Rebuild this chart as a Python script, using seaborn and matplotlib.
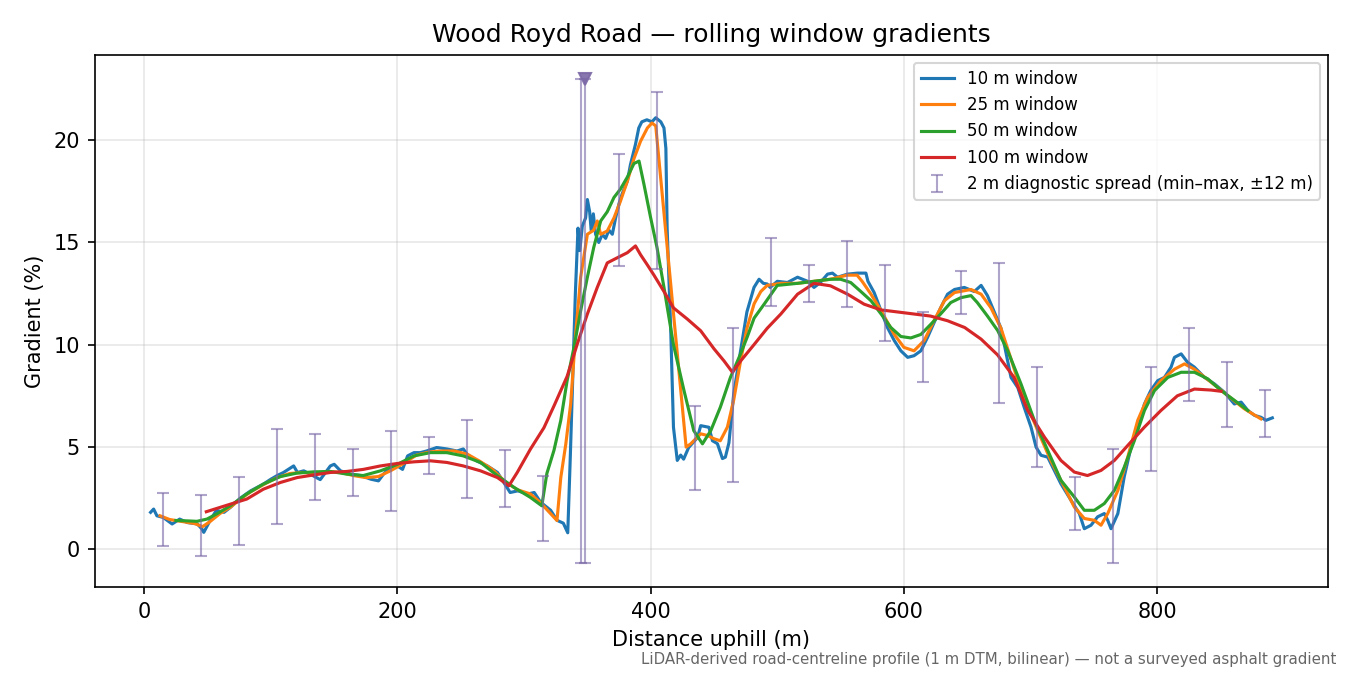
import numpy as np
import pandas as pd
import matplotlib
matplotlib.use("Agg")
import matplotlib.pyplot as plt
import seaborn as sns

# 10 m rolling window (noisy)
x_10 = [5, 7.4, 10, 15, 22, 28, 34, 42, 45.6, 47, 52, 57, 63, 68, 76, 84, 94, 100, 105, 110,
        118, 121, 126, 131, 139, 147, 150, 155, 163, 171, 179, 185, 189, 194, 200, 204, 208, 213,
        218, 223, 231, 239, 247, 252, 255, 263, 271, 279, 284, 289, 295, 303, 308, 313, 321, 326,
        331, 334.5, 336.5, 338.5, 340.5, 342.6, 344, 346, 348.6, 350, 351.8, 353, 354.7, 356.5,
        359, 361.8, 364.4, 367, 369.7, 372.3, 375, 377.6, 381.6, 384, 388, 390.6, 393, 397, 401,
        404, 408, 410.5, 412, 413, 415.8, 418, 421, 423.7, 426, 430, 437, 439.5, 446, 448.8, 452.7,
        456.7, 459, 461.8, 465.6, 471, 476, 481.6, 485.6, 489, 492, 494.4, 500, 508, 516, 524, 529,
        534, 539.7, 543.6, 547.6, 555.5, 563.4, 570, 571.6, 576.5, 582, 587, 592.4, 597.6, 603,
        608, 613.4, 618.7, 624, 629, 634.5, 640, 647.7, 655.6, 661, 666, 671.4, 676.7, 682, 684.6,
        690, 695, 700.4, 704.4, 708.3, 713.6, 718.8, 724, 732, 738.6, 742.5, 747.8, 753, 758.3,
        761, 763.6, 769, 774, 779.4, 784.7, 790, 795, 800.5, 805.8, 811, 813.7, 819, 824, 829.5,
        837.4, 845.3, 853.2, 861, 866.4, 871.7, 877, 882, 886, 891]
g_10 = [1.8, 1.96, 1.63, 1.55, 1.23, 1.47, 1.3, 1.23, 0.98, 0.82, 1.4, 1.9, 1.8, 2.04, 2.5, 2.85,
        3.18, 3.42, 3.6, 3.75, 4.07, 3.75, 3.83, 3.67, 3.4, 4.07, 4.15, 3.83, 3.67, 3.6, 3.42, 3.34,
        3.67, 4.0, 4.07, 3.9, 4.56, 4.72, 4.72, 4.8, 4.97, 4.9, 4.8, 4.9, 4.64, 4.3, 4.07, 3.75,
        3.26, 2.77, 2.85, 2.7, 2.77, 2.3, 1.9, 1.41, 1.27, 0.8, 4.5, 8.5, 12.5, 15.7, 14.6, 15.8,
        16.2, 17.1, 16.5, 15.6, 16.4, 15.4, 15.0, 15.4, 15.2, 15.6, 15.4, 16.2, 16.9, 17.4, 18.0,
        18.8, 19.8, 20.6, 20.9, 21.0, 20.9, 21.1, 20.9, 20.6, 19.6, 15.7, 10.8, 5.96, 4.34, 4.6,
        4.4, 4.97, 5.46, 6.04, 5.96, 5.3, 5.16, 4.43, 4.5, 5.2, 7.6, 9.7, 11.6, 12.8, 13.2, 13.0,
        12.97, 12.8, 13.1, 13.04, 13.3, 13.1, 12.8, 13.04, 13.45, 13.5, 13.3, 13.45, 13.5, 13.5,
        13.1, 12.55, 11.66, 10.84, 10.2, 9.7, 9.38, 9.46, 9.7, 10.36, 11.1, 11.8, 12.47, 12.7,
        12.8, 12.6, 12.9, 12.4, 11.6, 10.8, 9.2, 8.4, 7.9, 6.94, 5.97, 4.99, 4.59, 4.5, 3.85, 3.2,
        2.39, 1.74, 1.0, 1.17, 1.58, 1.74, 1.41, 1.0, 1.74, 3.53, 4.99, 5.97, 7.1, 7.76, 8.24, 8.4,
        8.9, 9.38, 9.55, 9.14, 8.9, 8.4, 8.08, 7.67, 7.1, 7.19, 6.78, 6.54, 6.45, 6.3, 6.42]

# 25 m rolling window
x_25 = [12.5, 20, 30, 40, 46, 52, 60, 68, 76, 84, 94, 105, 115, 125, 135, 145, 155, 165, 175,
        185, 195, 205, 215, 225, 235, 245, 255, 265, 275, 285, 295, 305, 313, 320, 326, 329, 333,
        336.8, 340.7, 344.7, 350, 355, 357.8, 360.5, 365.7, 371, 376, 381.6, 386.8, 392, 397.4,
        401, 404, 428, 431.6, 439.5, 444.8, 450, 455, 460.6, 465.6, 471, 476, 481.7, 487, 492, 503,
        516, 529, 542, 555, 563, 567, 574, 582, 592.4, 600, 608, 616, 624, 632, 640, 653, 661,
        668.8, 676.7, 684.6, 692.5, 705.7, 716, 726.7, 734.6, 742.5, 750.4, 755.7, 761, 769, 776.8,
        784.7, 792.6, 803, 813.7, 821.6, 829.5, 842.7, 856, 869, 882]
g_25 = [1.63, 1.45, 1.35, 1.25, 1.1, 1.35, 1.75, 2.05, 2.45, 2.8, 3.15, 3.5, 3.7, 3.75, 3.7, 3.8,
        3.75, 3.6, 3.5, 3.55, 3.85, 4.2, 4.6, 4.75, 4.8, 4.8, 4.65, 4.3, 3.9, 3.3, 2.9, 2.7, 2.27,
        1.8, 1.4, 3.5, 5.16, 7.1, 10.5, 13.3, 15.4, 15.6, 16.05, 15.4, 15.56, 16.2, 17.0, 18.0,
        19.1, 19.95, 20.6, 20.84, 20.7, 4.99, 5.15, 5.64, 5.56, 5.4, 5.3, 5.97, 7.3, 9.2, 10.8,
        12.0, 12.6, 12.9, 13.0, 13.0, 13.1, 13.2, 13.4, 13.4, 13.1, 12.47, 11.66, 10.5, 9.87, 9.7,
        10.2, 11.2, 12.15, 12.55, 12.7, 12.47, 11.8, 10.8, 9.3, 7.76, 5.8, 4.34, 3.04, 2.06, 1.5,
        1.41, 1.17, 1.74, 2.87, 4.5, 6.3, 7.43, 8.24, 8.8, 9.06, 8.8, 8.16, 7.5, 6.86, 6.37]

# 50 m rolling window
x_50 = [25, 35, 41.6, 49.5, 58, 68, 81, 94, 107.5, 120.7, 133.9, 147, 160, 173, 186.6, 200, 213,
        226, 239, 252, 265.6, 279, 292, 305, 314, 318, 323.6, 329, 334, 339.4, 344.7, 350, 355,
        360.5, 365.7, 371, 376, 381.6, 386.8, 390.8, 394.7, 400, 405, 410.5, 418, 426.3, 434,
        440.9, 447.5, 455, 463, 471, 476.4, 481.7, 489.6, 500, 516, 529, 542, 550, 558, 566, 574,
        582, 589.7, 597.6, 605.5, 613.4, 621.3, 629, 637, 645, 653, 658, 666, 674, 682, 692.5, 703,
        713.6, 724, 734.6, 742.5, 750.4, 758.3, 766.3, 774, 782, 790, 798, 808.5, 819, 829.5, 840,
        850.5, 861, 871.7]
g_50 = [1.4, 1.38, 1.36, 1.47, 1.75, 2.12, 2.7, 3.18, 3.55, 3.72, 3.78, 3.8, 3.67, 3.6, 3.83,
        4.15, 4.56, 4.72, 4.72, 4.56, 4.24, 3.59, 3.02, 2.53, 2.12, 3.7, 4.83, 6.3, 8.24, 9.87,
        11.66, 13.3, 14.75, 16.05, 16.5, 17.2, 17.6, 18.2, 18.86, 18.98, 17.84, 16.2, 14.75, 12.8,
        10.0, 7.76, 5.8, 5.15, 5.8, 6.94, 8.4, 9.55, 10.4, 11.3, 11.98, 12.9, 13.0, 13.1, 13.2,
        13.2, 13.04, 12.6, 12.15, 11.5, 10.84, 10.4, 10.33, 10.5, 11.0, 11.5, 12.06, 12.3, 12.4,
        12.06, 11.4, 10.7, 9.7, 8.08, 6.3, 4.83, 3.37, 2.55, 1.9, 1.9, 2.23, 2.88, 4.0, 5.3, 6.78,
        7.76, 8.4, 8.65, 8.65, 8.33, 7.76, 7.28, 6.78]

# 100 m rolling window
x_100 = [49, 68, 81, 94, 107.5, 120.7, 134, 147, 160, 173, 186.6, 200, 213, 226, 239, 252, 265.6,
         279, 288, 294.6, 305, 315.7, 323.6, 334, 342, 350, 357.8, 365.7, 373.6, 381.6, 388, 392,
         397.4, 402.6, 410.5, 418, 429, 439.5, 450, 458, 464.6, 471, 481.6, 492, 502.8, 516, 529,
         542, 555.5, 568.6, 582, 595, 608, 621, 634.5, 648, 661, 674, 687, 697.8, 711, 724, 734.6,
         745, 755.7, 766.3, 776.8, 790, 803, 816, 829.5, 842.7, 850.5]
g_100 = [1.83, 2.2, 2.45, 2.93, 3.26, 3.5, 3.63, 3.75, 3.8, 3.9, 4.07, 4.19, 4.27, 4.32, 4.24,
         4.07, 3.83, 3.5, 3.1, 3.75, 4.89, 5.94, 7.0, 8.45, 10.03, 11.5, 12.8, 14.0, 14.25, 14.5,
         14.83, 14.4, 13.9, 13.4, 12.6, 11.8, 11.25, 10.68, 9.8, 9.2, 8.65, 9.2, 10.0, 10.8, 11.5,
         12.47, 13.0, 12.88, 12.47, 11.98, 11.7, 11.6, 11.5, 11.4, 11.17, 10.84, 10.27, 9.5, 8.4,
         6.78, 5.48, 4.34, 3.77, 3.6, 3.85, 4.34, 5.07, 5.97, 6.78, 7.5, 7.83, 7.78, 7.72]

# 2 m diagnostic spread (min / max within +-12 m)
spread_x = [15, 45, 75, 105, 135, 165, 195, 225, 255, 285, 315, 345, 348, 375, 405, 435, 465,
            495, 525, 555, 585, 615, 645, 675, 705, 735, 765, 795, 825, 855, 885]
spread_lo = [0.16, -0.33, 0.21, 1.23, 2.4, 2.6, 1.87, 3.67, 2.5, 2.06, 0.4, -0.68, -0.68, 13.85,
             13.72, 2.88, 3.28, 11.87, 12.11, 11.82, 10.16, 8.16, 11.48, 7.14, 4.01, 0.93, -0.67,
             3.82, 7.23, 5.97, 5.48]
spread_hi = [2.75, 2.63, 3.53, 5.87, 5.62, 4.89, 5.77, 5.48, 6.34, 4.84, 3.6, 23.0, 23.0, 19.33,
             22.36, 6.99, 10.84, 15.23, 13.89, 15.07, 13.89, 11.58, 13.6, 14.0, 8.89, 3.53, 4.88,
             8.89, 10.84, 9.14, 7.76]
clip_x = [348]
clip_y = [23.0]

windows = ["10 m window", "25 m window", "50 m window", "100 m window"]
series = [(x_10, g_10), (x_25, g_25), (x_50, g_50), (x_100, g_100)]

frames = []
for name, (xs, ys) in zip(windows, series):
    frames.append(pd.DataFrame({"dist": xs, "grad": ys, "window": name}))
df = pd.concat(frames, ignore_index=True)

fig, ax = plt.subplots(figsize=(9, 4.5), dpi=150)
sns.lineplot(data=df, x="dist", y="grad", hue="window", hue_order=windows,
             palette=sns.color_palette("tab10", 4), estimator=None, sort=True,
             linewidth=1.5, ax=ax)

lo = np.array(spread_lo)
hi = np.array(spread_hi)
mid = (lo + hi) / 2
ax.errorbar(spread_x, mid, yerr=[mid - lo, hi - mid], fmt="none", ecolor="#7b68a6",
            elinewidth=1, capsize=3, alpha=0.6,
            label="2 m diagnostic spread (min\u2013max, \u00b112 m)")
ax.plot(clip_x, clip_y, "v", color="#7b68a6", alpha=0.9, markersize=6)

ax.set_title("Wood Royd Road \u2014 rolling window gradients", fontsize=12)
ax.set_xlabel("Distance uphill (m)")
ax.set_ylabel("Gradient (%)")
ax.grid(True, alpha=0.3)
ax.legend(loc="upper right", fontsize=8)

fig.text(0.99, 0.012, "LiDAR-derived road-centreline profile (1 m DTM, bilinear) \u2014 not a surveyed asphalt gradient",
         ha="right", va="bottom", fontsize=7.2, color="#666666")
fig.subplots_adjust(left=0.07, right=0.984, top=0.919, bottom=0.13)
fig.savefig("out.png", dpi=150)
